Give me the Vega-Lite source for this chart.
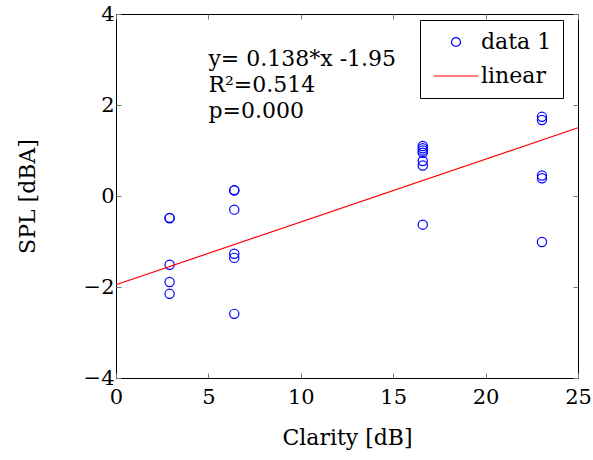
{
  "$schema": "https://vega.github.io/schema/vega-lite/v6.json",
  "autosize": {"type": "none"},
  "width": 462,
  "height": 364,
  "padding": {"left": 116, "top": 14, "right": 15, "bottom": 82},
  "background": "white",
  "config": {
    "font": "DejaVu Serif",
    "view": {"stroke": "black", "strokeWidth": 1},
    "axis": {
      "grid": false,
      "domain": false,
      "labelFlush": false,
      "labelOverlap": false,
      "tickColor": "#777",
      "tickSize": -5,
      "labelFont": "DejaVu Serif",
      "labelFontSize": 21,
      "labelColor": "black",
      "titleFont": "DejaVu Serif",
      "titleFontSize": 22,
      "titleFontWeight": "normal",
      "titleColor": "black"
    },
    "legend": {
      "title": null,
      "orient": "none",
      "legendX": 304,
      "legendY": 6,
      "strokeColor": "black",
      "fillColor": "white",
      "padding": 11,
      "labelFont": "DejaVu Serif",
      "labelFontSize": 22,
      "labelColor": "black",
      "labelOffset": 14,
      "symbolOffset": 14,
      "rowPadding": 12,
      "symbolSize": 2025,
      "symbolStrokeWidth": 1.2
    }
  },
  "datasets": {
    "pts": [
      {"c": 2.9, "s": -0.49}, {"c": 2.9, "s": -0.48}, {"c": 2.9, "s": -1.51}, {"c": 2.9, "s": -1.89}, {"c": 2.9, "s": -2.15},
      {"c": 6.4, "s": 0.12}, {"c": 6.4, "s": 0.13}, {"c": 6.4, "s": -0.3}, {"c": 6.4, "s": -1.27}, {"c": 6.4, "s": -1.36}, {"c": 6.4, "s": -2.59},
      {"c": 16.6, "s": 1.1}, {"c": 16.6, "s": 1.05}, {"c": 16.6, "s": 1.0}, {"c": 16.6, "s": 0.95}, {"c": 16.6, "s": 0.77}, {"c": 16.6, "s": 0.67}, {"c": 16.6, "s": -0.63},
      {"c": 23.05, "s": 1.74}, {"c": 23.05, "s": 1.67}, {"c": 23.05, "s": 0.45}, {"c": 23.05, "s": 0.39}, {"c": 23.05, "s": -1.01}
    ],
    "fit": [{"c": 0, "s": -1.95}, {"c": 25, "s": 1.5}],
    "notes": [
      {"c": 5, "s": 3.02, "t": "y= 0.138*x -1.95"},
      {"c": 5, "s": 2.43, "t": "R²=0.514"},
      {"c": 5, "s": 1.86, "t": "p=0.000"}
    ]
  },
  "layer": [
    {
      "data": {"name": "pts"},
      "mark": {"type": "point", "shape": "circle", "filled": false, "size": 85, "strokeWidth": 1.2, "opacity": 1},
      "encoding": {
        "x": {"field": "c", "type": "quantitative", "scale": {"domain": [0, 25], "nice": false},
              "axis": {"title": "Clarity [dB]", "values": [0, 5, 10, 15, 20, 25], "labelPadding": 13, "titlePadding": 20}},
        "y": {"field": "s", "type": "quantitative", "scale": {"domain": [-4, 4], "nice": false},
              "axis": {"title": "SPL [dBA]", "values": [-4, -2, 0, 2, 4], "labelPadding": 7, "titlePadding": 44}},
        "color": {"datum": "data 1", "type": "nominal",
                  "scale": {"domain": ["data 1", "linear"], "range": ["blue", "red"]},
                  "legend": {
                    "encode": {
                      "symbols": {
                        "update": {
                          "shape": {"signal": "datum.value === 'linear' ? 'stroke' : 'circle'"},
                          "size": {"signal": "datum.value === 'linear' ? 2025 : 80"},
                          "fill": {"value": "transparent"},
                          "stroke": {"signal": "datum.value === 'linear' ? 'red' : 'blue'"}
                        }
                      }
                    }
                  }}
      }
    },
    {
      "data": {"name": "fit"},
      "mark": {"type": "line", "strokeWidth": 1.2},
      "encoding": {
        "x": {"field": "c", "type": "quantitative",
              "axis": {"orient": "top", "labels": false, "title": null, "values": [0, 5, 10, 15, 20, 25]}},
        "y": {"field": "s", "type": "quantitative",
              "axis": {"orient": "right", "labels": false, "title": null, "values": [-4, -2, 0, 2, 4]}},
        "color": {"datum": "linear", "type": "nominal",
                  "legend": {
                    "encode": {
                      "symbols": {
                        "update": {
                          "shape": {"signal": "datum.value === 'linear' ? 'stroke' : 'circle'"},
                          "size": {"signal": "datum.value === 'linear' ? 2025 : 80"},
                          "fill": {"value": "transparent"},
                          "stroke": {"signal": "datum.value === 'linear' ? 'red' : 'blue'"}
                        }
                      }
                    }
                  }}
      }
    },
    {
      "data": {"name": "notes"},
      "mark": {"type": "text", "align": "left", "baseline": "middle", "font": "DejaVu Serif", "fontSize": 22, "color": "black"},
      "encoding": {
        "x": {"field": "c", "type": "quantitative", "axis": null},
        "y": {"field": "s", "type": "quantitative", "axis": null},
        "text": {"field": "t"}
      }
    }
  ],
  "resolve": {"axis": {"x": "independent", "y": "independent"}}
}
